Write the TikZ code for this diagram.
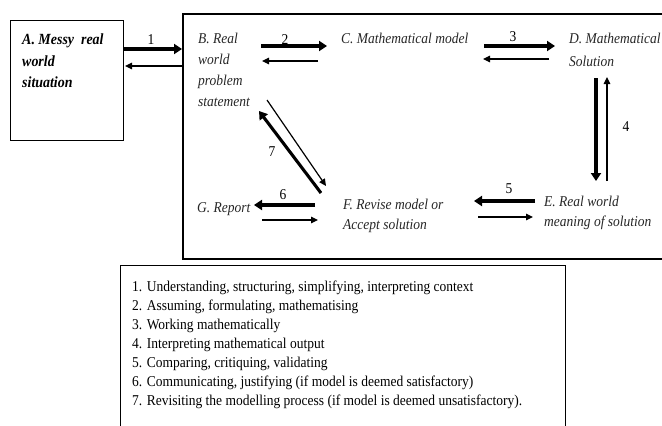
\documentclass[tikz,border=0pt]{standalone}
\usepackage{fontspec}
\setmainfont{Liberation Serif}[FakeStretch=0.9]
\usetikzlibrary{arrows.meta}
\begin{document}
\begin{tikzpicture}[x=1pt,y=-1pt,
  lbl/.style={font=\fontsize{15}{21}\selectfont\itshape, text=black!85, align=left, inner sep=0pt, anchor=north west},
  hv/.style={line width=3.1pt,-{Triangle[length=8pt,width=10pt]}},
  th/.style={line width=1.2pt,-{Triangle[length=7pt,width=6.5pt]}},
  num/.style={font=\fontsize{15}{15}\selectfont, inner sep=0pt},
  frame/.style={draw, line width=1.4pt, inner sep=0pt, anchor=north west}]
\useasboundingbox (0,0) rectangle (662,426);
% boxes
\node[frame, minimum width=113pt, minimum height=120pt] (Abox) at (10,20) {};
\node[frame, line width=1.8pt, minimum width=500pt, minimum height=245pt] (main) at (182,13) {};
\node[frame, minimum width=445pt, minimum height=180pt] (legbox) at (120,265) {};
% labels
\node[lbl, font=\fontsize{15.5}{21.5}\selectfont\bfseries\itshape, text=black] (A) at (22,34) {A. Messy\ \ real\\world\\situation};
\node[lbl] (B) at (198,33) {B. Real\\world\\problem\\statement};
\node[lbl] (C) at (341,33) {C. Mathematical model};
\node[lbl, font=\fontsize{15}{23}\selectfont\itshape] (D) at (569,33) {D. Mathematical\\Solution};
\node[lbl, font=\fontsize{15}{20}\selectfont\itshape] (E) at (544,196) {E. Real world\\meaning of solution};
\node[lbl, font=\fontsize{15}{20}\selectfont\itshape] (F) at (343,199) {F. Revise model or\\Accept solution};
\node[lbl] (G) at (197,202) {G. Report};
\node[inner sep=0pt, anchor=north west, align=left, font=\fontsize{15}{19}\selectfont] (legend) at (132,281)
 {1. Understanding, structuring, simplifying, interpreting context\\
  2. Assuming, formulating, mathematising\\
  3. Working mathematically\\
  4. Interpreting mathematical output\\
  5. Comparing, critiquing, validating\\
  6. Communicating, justifying (if model is deemed satisfactory)\\
  7. Revisiting the modelling process (if model is deemed unsatisfactory).};
% numbers
\node[num] (n1) at (151,40) {1};
\node[num] (n2) at (285,40) {2};
\node[num] (n3) at (513,37) {3};
\node[num] (n4) at (626,127) {4};
\node[num] (n5) at (509,189) {5};
\node[num] (n6) at (283,195) {6};
\node[num] (n7) at (272,152) {7};
% arrow end points
\coordinate (a1s) at (123,49); \coordinate (a1e) at (182,49);
\coordinate (b1s) at (182,66); \coordinate (b1e) at (125,66);
\coordinate (a2s) at (261,46); \coordinate (a2e) at (327,46);
\coordinate (b2s) at (318,61); \coordinate (b2e) at (262,61);
\coordinate (a3s) at (484,46); \coordinate (a3e) at (555,46);
\coordinate (b3s) at (549,59); \coordinate (b3e) at (483,59);
\coordinate (a4s) at (596,78); \coordinate (a4e) at (596,181);
\coordinate (b4s) at (607,181); \coordinate (b4e) at (607,77);
\coordinate (a5s) at (535,201); \coordinate (a5e) at (474,201);
\coordinate (b5s) at (478,217); \coordinate (b5e) at (533,217);
\coordinate (a6s) at (315,205); \coordinate (a6e) at (254,205);
\coordinate (b6s) at (262,220); \coordinate (b6e) at (318,220);
\coordinate (b7s) at (267,100); \coordinate (b7e) at (326,186);
\coordinate (a7s) at (321,193); \coordinate (a7e) at (259,111);
% arrows
\draw[hv] (a1s) -- (a1e); \draw[th] (b1s) -- (b1e);
\draw[hv] (a2s) -- (a2e); \draw[th] (b2s) -- (b2e);
\draw[hv] (a3s) -- (a3e); \draw[th] (b3s) -- (b3e);
\draw[hv] (a4s) -- (a4e); \draw[th] (b4s) -- (b4e);
\draw[hv] (a5s) -- (a5e); \draw[th] (b5s) -- (b5e);
\draw[hv] (a6s) -- (a6e); \draw[th] (b6s) -- (b6e);
\draw[th] (b7s) -- (b7e); \draw[hv] (a7s) -- (a7e);
\end{tikzpicture}
\end{document}
